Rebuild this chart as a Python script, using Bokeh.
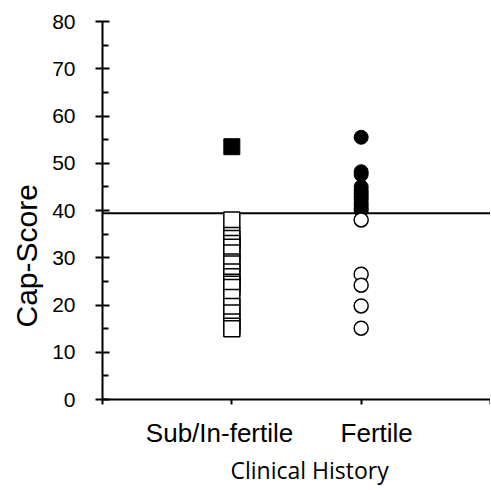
from bokeh.plotting import figure
from bokeh.models import Span, FixedTicker, Range1d, Title, LinearAxis
from bokeh.embed import file_html
from bokeh.resources import INLINE

# ---- data ----
categories = ["Sub/In-fertile", "Fertile"]
threshold = 39.4
subfertile_above = [53.5]
subfertile_below = [38.0, 34.7, 34.1, 33.0, 32.2, 31.0, 29.1, 28.7, 27.0, 26.0,
                    24.8, 24.4, 23.7, 21.6, 19.7, 18.3, 16.4, 15.5, 15.0]
fertile_above = [55.5, 48.2, 47.6, 45.0, 44.2, 43.6, 43.0, 42.4, 41.6, 41.0, 40.4, 40.0]
fertile_below = [38.0, 26.5, 24.2, 19.8, 15.1]
y_ticks = [0, 10, 20, 30, 40, 50, 60, 70, 80]
x_positions = [1, 2]
label_positions = [0.905, 2.12]

p = figure(width=490, height=490, output_backend="svg", toolbar_location=None,
           x_range=Range1d(0, 3.0), y_range=Range1d(0, 80),
           min_border_left=102, min_border_right=0, min_border_top=21, min_border_bottom=91)
p.outline_line_color = None
p.xgrid.visible = False
p.ygrid.visible = False
p.background_fill_color = "white"

# threshold line
p.add_layout(Span(location=threshold, dimension="width", line_color="black",
                  line_width=2, level="underlay"))

x1, x2 = x_positions
p.scatter([x1] * len(subfertile_below), subfertile_below, marker="square", size=16,
          fill_color="white", line_color="black", line_width=1.5)
p.scatter([x1] * len(subfertile_above), subfertile_above, marker="square", size=16,
          fill_color="black", line_color="black")
p.scatter([x2] * len(fertile_above), fertile_above, marker="circle", size=14,
          fill_color="black", line_color="black")
p.scatter([x2] * len(fertile_below), fertile_below, marker="circle", size=14,
          fill_color="white", line_color="black", line_width=1.5)

# y axis
ya = p.yaxis[0]
ya.ticker = FixedTicker(ticks=y_ticks, minor_ticks=[v + 5 for v in y_ticks[:-1]])
ya.axis_line_width = 2
ya.major_tick_line_width = 2
ya.minor_tick_line_width = 2
ya.major_tick_in = 7
ya.major_tick_out = 7
ya.minor_tick_in = 6
ya.minor_tick_out = 0
ya.major_label_text_font = "Liberation Sans"
ya.major_label_text_font_size = "21px"
ya.major_label_text_color = "black"
ya.major_label_standoff = 20

ytitle = Title(text="Cap-Score", align="left", offset=72, standoff=14,
               text_font="Liberation Sans", text_font_size="30px",
               text_font_style="normal", text_color="black")
p.add_layout(ytitle, "left")

# x axis: line and tick marks
xa = p.xaxis[0]
xa.ticker = FixedTicker(ticks=[0] + x_positions + [3], minor_ticks=[])
xa.axis_line_width = 2
xa.major_tick_line_width = 2
xa.major_tick_in = 0
xa.major_tick_out = 5
xa.minor_tick_in = 0
xa.minor_tick_out = 0
xa.major_label_text_font_size = "0px"
xa.major_label_text_color = None
xa.major_label_standoff = 0

# x axis: category labels
xl = LinearAxis(ticker=FixedTicker(ticks=label_positions, minor_ticks=[]),
                major_label_overrides={label_positions[0]: categories[0],
                                       label_positions[1]: categories[1]})
xl.axis_line_color = None
xl.major_tick_line_color = None
xl.minor_tick_line_color = None
xl.major_tick_in = 0
xl.major_tick_out = 0
xl.major_label_text_font = "Liberation Sans"
xl.major_label_text_font_size = "26px"
xl.major_label_text_color = "black"
xl.major_label_standoff = 13
p.add_layout(xl, "below")

xtitle = Title(text="Clinical History", align="left", offset=128, standoff=2,
               text_font="Open Sans", text_font_size="23px",
               text_font_style="normal", text_color="black")
p.add_layout(xtitle, "below")

open("out.html", "w").write(file_html(p, INLINE))
